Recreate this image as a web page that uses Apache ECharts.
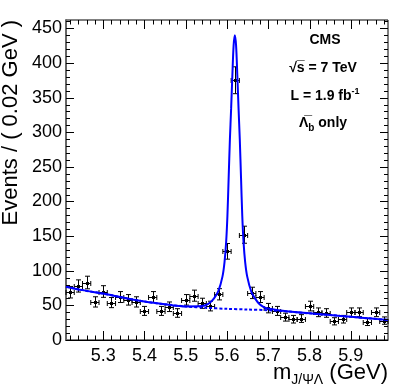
<!DOCTYPE html>
<html>
<head>
<meta charset="utf-8">
<script src="https://cdn.jsdelivr.net/npm/echarts@6/dist/echarts.min.js"></script>
<style>
  html, body { margin: 0; padding: 0; background: #fff; }
  #main { width: 407px; height: 391px; }
</style>
</head>
<body>
<div id="main"></div>
<script>
// mass window (GeV) and bin width
var massMin = 5.21;
var massMax = 5.99;
var binWidth = 0.02;
var yMax = 462;

// data: events per 0.02 GeV bin
var binCenters = [5.22, 5.24, 5.26, 5.28, 5.30, 5.32, 5.34, 5.36, 5.38, 5.40,
  5.42, 5.44, 5.46, 5.48, 5.50, 5.52, 5.54, 5.56, 5.58, 5.60,
  5.62, 5.64, 5.66, 5.68, 5.70, 5.72, 5.74, 5.76, 5.78, 5.80,
  5.82, 5.84, 5.86, 5.88, 5.90, 5.92, 5.94, 5.96, 5.98];
var counts = [69, 78, 83, 55, 70, 54, 62, 58, 55, 42,
  62, 42, 48, 39, 58, 64, 53, 49, 66, 128,
  375, 152, 68, 62, 46, 42, 33, 30, 31, 49,
  40, 39, 27, 30, 40, 40, 26, 40, 28];
var countErrors = [8.3, 8.8, 9.1, 7.4, 8.4, 7.3, 7.9, 7.6, 7.4, 6.5,
  7.9, 6.5, 6.9, 6.2, 7.6, 8.0, 7.3, 7.0, 8.1, 11.3,
  19.4, 12.3, 8.2, 7.9, 6.8, 6.5, 5.7, 5.5, 5.6, 7.0,
  6.3, 6.2, 5.2, 5.5, 6.3, 6.3, 5.1, 6.3, 5.3];

// fit curve (signal + background)
var fitMass = [5.21, 5.25, 5.30, 5.35, 5.40, 5.45, 5.50, 5.539, 5.549, 5.559,
  5.569, 5.579, 5.589, 5.594, 5.598, 5.601, 5.604, 5.607, 5.610, 5.613,
  5.616, 5.619, 5.622, 5.625, 5.628, 5.631, 5.634, 5.637, 5.640, 5.644,
  5.649, 5.659, 5.669, 5.679, 5.689, 5.699, 5.75, 5.80, 5.85, 5.90, 5.95, 5.99];
var fitTotal = [77, 72, 67, 61, 55.5, 51.5, 48.5, 49, 50.5, 54,
  60.5, 70.5, 91.5, 112.5, 142, 179, 234, 289, 334, 382,
  425, 440, 425, 382, 334, 289, 234, 179, 142, 112.5,
  91.5, 69.5, 59, 51.5, 47.5, 45.5, 41, 38.5, 36, 33.5, 31, 29];

// background component (dashed)
var bkgMass = [5.21, 5.25, 5.30, 5.35, 5.40, 5.45, 5.50, 5.55, 5.60, 5.65,
  5.70, 5.75, 5.80, 5.85, 5.90, 5.95, 5.99];
var bkgVals = [77, 72, 67, 61, 55.5, 51.5, 48.5, 46.5, 45, 44,
  43, 41, 38.5, 36, 33.5, 31, 29];

// axis ticks
var xMajorTicks = [5.3, 5.4, 5.5, 5.6, 5.7, 5.8, 5.9];
var xMinorTicks = binCenters;
var yMajorTicks = [0, 50, 100, 150, 200, 250, 300, 350, 400, 450];
var yMinorTicks = [10, 20, 30, 40, 60, 70, 80, 90, 110, 120, 130, 140, 160, 170, 180, 190,
  210, 220, 230, 240, 260, 270, 280, 290, 310, 320, 330, 340, 360, 370, 380, 390,
  410, 420, 430, 440, 460];

var FONT = "'Liberation Sans', Arial, Helvetica, sans-serif";
var BLUE = '#0000ff';

var pointData = binCenters.map(function (m, i) {
  return [m, counts[i], countErrors[i]];
});
var fitData = fitMass.map(function (m, i) { return [m, fitTotal[i]]; });
var bkgData = bkgMass.map(function (m, i) { return [m, bkgVals[i]]; });

// kind: 0 x minor, 1 x major, 2 y minor, 3 y major
var tickData = [];
xMinorTicks.forEach(function (v) { tickData.push([v, 0]); });
xMajorTicks.forEach(function (v) { tickData.push([v, 1]); });
yMinorTicks.forEach(function (v) { tickData.push([v, 2]); });
yMajorTicks.forEach(function (v) { tickData.push([v, 3]); });

function renderPoint(params, api) {
  var m = api.value(0), n = api.value(1), e = api.value(2);
  var c = api.coord([m, n]);
  var top = api.coord([m, n + e])[1];
  var bot = api.coord([m, n - e])[1];
  var left = api.coord([m - binWidth / 2, n])[0];
  var right = api.coord([m + binWidth / 2, n])[0];
  var x = Math.round(c[0]) + 0.5, y = Math.round(c[1]) + 0.5;
  var st = { stroke: '#000', lineWidth: 1 };
  return {
    type: 'group',
    children: [
      { type: 'line', shape: { x1: x, y1: top, x2: x, y2: bot }, style: st },
      { type: 'line', shape: { x1: x - 2.5, y1: top, x2: x + 2.5, y2: top }, style: st },
      { type: 'line', shape: { x1: x - 2.5, y1: bot, x2: x + 2.5, y2: bot }, style: st },
      { type: 'line', shape: { x1: left, y1: y, x2: right, y2: y }, style: st },
      { type: 'line', shape: { x1: left, y1: y - 2.5, x2: left, y2: y + 2.5 }, style: st },
      { type: 'line', shape: { x1: right, y1: y - 2.5, x2: right, y2: y + 2.5 }, style: st },
      { type: 'rect', shape: { x: x - 1.5, y: y - 1.5, width: 3, height: 3 }, style: { fill: '#000' } }
    ]
  };
}

function renderTick(params, api) {
  var cs = params.coordSys;
  var v = api.value(0), kind = api.value(1);
  var st = { stroke: '#000', lineWidth: 1 };
  var len, p;
  if (kind < 2) {
    p = Math.round(api.coord([v, 0])[0]) + 0.5;
    len = kind === 1 ? 9 : 4.5;
    var yb = cs.y + cs.height, yt = cs.y;
    return {
      type: 'group',
      children: [
        { type: 'line', shape: { x1: p, y1: yb, x2: p, y2: yb - len }, style: st },
        { type: 'line', shape: { x1: p, y1: yt, x2: p, y2: yt + len }, style: st }
      ]
    };
  }
  p = Math.round(api.coord([massMin, v])[1]) + 0.5;
  len = kind === 3 ? 8 : 4;
  var xl = cs.x, xr = cs.x + cs.width;
  return {
    type: 'group',
    children: [
      { type: 'line', shape: { x1: xl, y1: p, x2: xl + len, y2: p }, style: st },
      { type: 'line', shape: { x1: xr, y1: p, x2: xr - len, y2: p }, style: st }
    ]
  };
}

var chart = echarts.init(document.getElementById('main'), null, { renderer: 'canvas' });

var option = {
  animation: false,
  backgroundColor: '#fff',
  grid: {
    left: 66, right: 19, top: 20, bottom: 51,
    containLabel: false,
    outerBoundsMode: 'none',
    show: true,
    borderColor: '#000',
    borderWidth: 1,
    backgroundColor: 'transparent'
  },
  xAxis: {
    type: 'value',
    min: massMin,
    max: massMax,
    interval: 0.01,
    axisLine: { show: true, lineStyle: { color: '#000', width: 1 } },
    axisTick: { show: false },
    splitLine: { show: false },
    axisLabel: {
      color: '#000',
      fontFamily: FONT,
      fontSize: 18,
      margin: 7,
      showMinLabel: true,
      showMaxLabel: true,
      formatter: function (v) {
        var t = v * 10;
        return Math.abs(t - Math.round(t)) < 1e-6 ? v.toFixed(1) : '';
      }
    }
  },
  yAxis: {
    type: 'value',
    min: 0,
    max: yMax,
    interval: 50,
    axisLine: { show: true, lineStyle: { color: '#666', width: 2 } },
    axisTick: { show: false },
    splitLine: { show: false },
    axisLabel: {
      color: '#000',
      fontFamily: FONT,
      fontSize: 18,
      margin: 4,
      showMaxLabel: false
    }
  },
  graphic: [
    {
      type: 'text', x: 11, y: 20, rotation: Math.PI / 2,
      style: {
        text: 'Events / ( 0.02 GeV )', fill: '#000',
        font: '22px ' + FONT, textAlign: 'right', textVerticalAlign: 'middle'
      }
    },
    {
      type: 'text', x: 388, y: 373,
      style: {
        text: '{a|m}{sub|J/\u03a8\u039b}{a| (GeV)}',
        textAlign: 'right', textVerticalAlign: 'middle',
        rich: {
          a: { fontSize: 22, fontFamily: FONT, fill: '#000', lineHeight: 28 },
          sub: { fontSize: 14, fontFamily: FONT, fill: '#000', lineHeight: 14, verticalAlign: 'bottom' }
        }
      }
    },
    {
      type: 'text', x: 325, y: 40,
      style: {
        text: 'CMS', fill: '#000', font: 'bold 14px ' + FONT,
        textAlign: 'center', textVerticalAlign: 'middle'
      }
    },
    {
      type: 'text', x: 323, y: 68,
      style: {
        text: '\u221as\u0305 = 7 TeV', fill: '#000', font: 'bold 14px ' + FONT,
        textAlign: 'center', textVerticalAlign: 'middle'
      }
    },
    {
      type: 'text', x: 325, y: 96,
      style: {
        text: '{a|L = 1.9 fb}{sup|-1}',
        textAlign: 'center', textVerticalAlign: 'middle',
        rich: {
          a: { fontSize: 14, fontWeight: 'bold', fontFamily: FONT, fill: '#000', lineHeight: 18 },
          sup: { fontSize: 9, fontWeight: 'bold', fontFamily: FONT, fill: '#000', lineHeight: 9, verticalAlign: 'top' }
        }
      }
    },
    {
      type: 'text', x: 323, y: 123,
      style: {
        text: '{a|\u039b\u0305}{sub|b}{a| only}',
        textAlign: 'center', textVerticalAlign: 'middle',
        rich: {
          a: { fontSize: 14, fontWeight: 'bold', fontFamily: FONT, fill: '#000', lineHeight: 20 },
          sub: { fontSize: 10, fontWeight: 'bold', fontFamily: FONT, fill: '#000', lineHeight: 10, verticalAlign: 'bottom' }
        }
      }
    }
  ],
  series: [
    {
      name: 'ticks',
      type: 'custom',
      renderItem: renderTick,
      data: tickData,
      silent: true,
      z: 5
    },
    {
      name: 'data',
      type: 'custom',
      renderItem: renderPoint,
      data: pointData,
      z: 2
    },
    {
      name: 'background',
      type: 'line',
      data: bkgData,
      smooth: 0.3,
      showSymbol: false,
      symbol: 'none',
      lineStyle: { color: BLUE, width: 2, type: [3, 2] },
      z: 3
    },
    {
      name: 'fit',
      type: 'line',
      data: fitData,
      smooth: 0.3,
      showSymbol: false,
      symbol: 'none',
      lineStyle: { color: BLUE, width: 2 },
      z: 4
    }
  ]
};

chart.setOption(option);
</script>
</body>
</html>
